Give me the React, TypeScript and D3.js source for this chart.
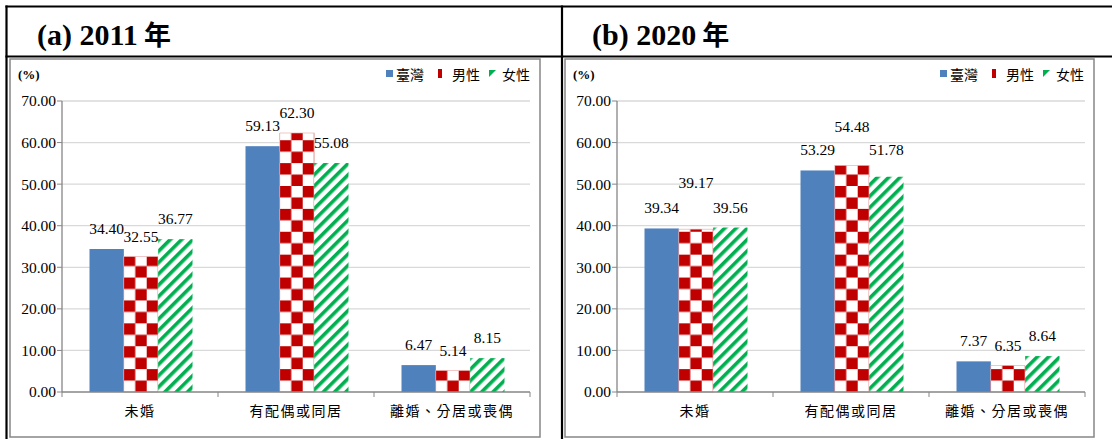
import * as d3 from "d3";

const categories = ["未婚", "有配偶或同居", "離婚、分居或喪偶"];
const seriesNames = ["臺灣", "男性", "女性"];

const taiwan2011 = [34.4, 59.13, 6.47];
const male2011 = [32.55, 62.3, 5.14];
const female2011 = [36.77, 55.08, 8.15];

const taiwan2020 = [39.34, 53.29, 7.37];
const male2020 = [39.17, 54.48, 6.35];
const female2020 = [39.56, 51.78, 8.64];

const yTicks = [0, 10, 20, 30, 40, 50, 60, 70];

// extra lift (px) for labels that were moved by hand in the original
const lift2011 = [[0, 0, 0], [0, 0, 0], [0, 0, 0]];
const lift2020 = [[0, 26, 0], [0, 19, 7], [0, 0, 0]];

const BLUE = "#4F81BD";
const RED = "#C00000";
const GREEN = "#00B050";
const AXIS = "#868686";
const GRID = "#D9D9D9";
const SERIF = "'Liberation Serif', 'Times New Roman', serif";
const CJK = "'Noto Sans CJK TC', 'Noto Sans CJK SC', sans-serif";

const PLOT = { top: 101, bottom: 392, width: 468 };

type PanelProps = {
    id: string;
    title: string;
    frameX: number;
    frameW: number;
    axisX: number;
    series: number[][];
    lift: number[][];
};

const Panel = ({ id, title, frameX, frameW, axisX, series, lift }: PanelProps) => {
    const y = d3.scaleLinear().domain([0, 70]).range([PLOT.bottom, PLOT.top]);
    const xCat = d3.scaleBand().domain(categories).range([axisX, axisX + PLOT.width]);
    const xSer = d3
        .scaleBand()
        .domain(seriesNames)
        .range([27.5, xCat.bandwidth() - 25.5]);
    const fmt = d3.format(".2f");

    const bars = categories.map((cat, ci) =>
        seriesNames.map((s, si) => {
            const v = series[si][ci];
            const x = (xCat(cat) as number) + (xSer(s) as number);
            const w = xSer.bandwidth();
            return { key: `${ci}-${si}`, cat, ci, si, v, x, w, top: y(v) };
        })
    ).flat();

    const legendRight = frameX + frameW;

    return (
        <g>
            <defs>
                {bars.filter((b) => b.si === 1).map((b) => {
                    const c = b.w / 3;
                    return (
                        <pattern
                            key={b.key}
                            id={`${id}-chk-${b.ci}`}
                            patternUnits="userSpaceOnUse"
                            x={b.x}
                            y={PLOT.bottom}
                            width={2 * c}
                            height={2 * c}
                        >
                            <rect width={2 * c} height={2 * c} fill="#fff" />
                            <rect x={0} y={0} width={c} height={c} fill={RED} />
                            <rect x={c} y={c} width={c} height={c} fill={RED} />
                        </pattern>
                    );
                })}
                <pattern
                    id={`${id}-stripe`}
                    patternUnits="userSpaceOnUse"
                    width={8}
                    height={8}
                    patternTransform="rotate(45)"
                >
                    <rect width={8} height={8} fill="#fff" />
                    <rect width={3.6} height={8} fill={GREEN} />
                </pattern>
            </defs>

            {/* chart frame */}
            <rect x={frameX} y={59} width={frameW} height={378} fill="#fff" stroke={AXIS} strokeWidth={1.5} />

            <text x={frameX + 8} y={79} fontFamily={SERIF} fontWeight="bold" fontSize={13}>(%)</text>

            {/* legend */}
            <g fontFamily={CJK} fontSize={14}>
                <rect x={legendRight - 154} y={70} width={7} height={7} fill={BLUE} />
                <text x={legendRight - 144} y={80}>{seriesNames[0]}</text>
                <rect x={legendRight - 102} y={69} width={4} height={9} fill={RED} />
                <text x={legendRight - 88} y={80}>{seriesNames[1]}</text>
                <polygon
                    points={`${legendRight - 51},70 ${legendRight - 44},70 ${legendRight - 51},77`}
                    fill={GREEN}
                />
                <text x={legendRight - 38} y={80}>{seriesNames[2]}</text>
            </g>

            {/* grid + y axis */}
            {yTicks.filter((t) => t > 0).map((t) => (
                <line key={t} x1={axisX} x2={axisX + PLOT.width} y1={y(t)} y2={y(t)} stroke={GRID} strokeWidth={1.3} />
            ))}
            {yTicks.map((t) => (
                <g key={t}>
                    <line x1={axisX - 5} x2={axisX} y1={y(t)} y2={y(t)} stroke={AXIS} />
                    <text
                        x={axisX - 6}
                        y={y(t)}
                        dy="0.35em"
                        textAnchor="end"
                        fontFamily={SERIF}
                        fontSize={15.5}
                    >
                        {fmt(t)}
                    </text>
                </g>
            ))}

            {/* bars */}
            {bars.map((b) => (
                <rect
                    key={b.key}
                    x={b.x}
                    y={b.top}
                    width={b.w}
                    height={PLOT.bottom - b.top}
                    fill={b.si === 0 ? BLUE : b.si === 1 ? `url(#${id}-chk-${b.ci})` : `url(#${id}-stripe)`}
                    stroke={b.si === 1 ? "#E8A0A0" : "none"}
                    strokeWidth={0.6}
                />
            ))}
            {bars.map((b) => (
                <text
                    key={b.key}
                    x={b.x + b.w / 2}
                    y={b.top - 15 - lift[b.ci][b.si]}
                    textAnchor="middle"
                    fontFamily={SERIF}
                    fontSize={15.5}
                >
                    {fmt(b.v)}
                </text>
            ))}

            {/* axes */}
            <line x1={axisX} x2={axisX} y1={PLOT.top} y2={PLOT.bottom} stroke={AXIS} strokeWidth={1.3} />
            <line x1={axisX} x2={axisX + PLOT.width} y1={PLOT.bottom} y2={PLOT.bottom} stroke={AXIS} strokeWidth={1.5} />
            {[0, 1, 2, 3].map((i) => (
                <line
                    key={i}
                    x1={axisX + i * xCat.bandwidth()}
                    x2={axisX + i * xCat.bandwidth()}
                    y1={PLOT.bottom}
                    y2={PLOT.bottom + 5}
                    stroke={AXIS}
                />
            ))}
            {categories.map((c) => (
                <text
                    key={c}
                    x={(xCat(c) as number) + xCat.bandwidth() / 2}
                    y={416}
                    textAnchor="middle"
                    fontFamily={CJK}
                    fontSize={14}
                    letterSpacing={1.5}
                >
                    {c}
                </text>
            ))}

            {/* title cell text */}
            <text x={frameX + 27} y={45} fontFamily={SERIF} fontWeight="bold" fontSize={30}>
                {title.split(" 年")[0]}
                <tspan fontFamily={CJK} fontSize={27}> 年</tspan>
            </text>
        </g>
    );
};

export default function App() {
    return (
        <svg
            width={1112}
            height={439}
            style={{ position: "absolute", left: 0, top: 0, background: "#fff" }}
        >
            <rect width={1112} height={439} fill="#fff" />
            <Panel
                id="a"
                title="(a) 2011 年"
                frameX={10}
                frameW={530}
                axisX={62}
                series={[taiwan2011, male2011, female2011]}
                lift={lift2011}
            />
            <Panel
                id="b"
                title="(b) 2020 年"
                frameX={565}
                frameW={529}
                axisX={617}
                series={[taiwan2020, male2020, female2020]}
                lift={lift2020}
            />
            {/* table borders */}
            <g stroke="#000" strokeWidth={2.2}>
                <line x1={5.4} x2={1112} y1={6.5} y2={6.5} />
                <line x1={5.4} x2={1112} y1={56.5} y2={56.5} />
                <line x1={6.5} x2={6.5} y1={5.4} y2={439} />
                <line x1={562} x2={562} y1={5.4} y2={439} />
            </g>
        </svg>
    );
}
